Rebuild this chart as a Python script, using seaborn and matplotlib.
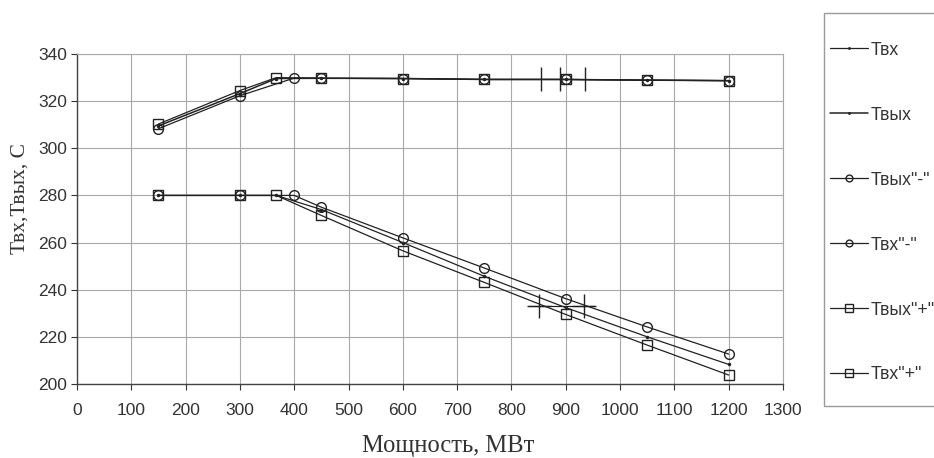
import numpy as np
import pandas as pd
import matplotlib
matplotlib.use("Agg")
import matplotlib.pyplot as plt
import seaborn as sns

# мощность, МВт
x_vyh = [150, 300, 367, 450, 600, 750, 900, 1050, 1200]
x_minus = [150, 300, 400, 450, 600, 750, 900, 1050, 1200]
x_plus = [150, 300, 367, 450, 600, 750, 900, 1050, 1200]

# температуры, С
t_vh = [280, 280, 280, 274, 260, 245.7, 232.4, 220, 208.3]
t_vyh = [309.5, 323.2, 329.6, 329.7, 329.6, 329.2, 329.2, 328.9, 328.7]
t_vyh_minus = [308.3, 322.3, 329.8, 329.7, 329.6, 329.2, 329.2, 328.9, 328.7]
t_vh_minus = [280, 280, 280, 275, 262, 249.2, 236.2, 224.2, 212.7]
t_vyh_plus = [310.3, 324.5, 330, 329.7, 329.6, 329.2, 329.2, 328.9, 328.7]
t_vh_plus = [280, 280, 280, 271.5, 256.5, 243.1, 229.5, 216.5, 203.8]

# пометки на графике
bar_x = [855, 890, 935]
bar_y = [329.2, 329.2, 329.2]
cross_x = [851, 934]
cross_y = [233, 233]
seg_x = [832, 952]
seg_y = [233, 233]

sns.set_style("white")
plt.rcParams['font.family'] = ['Liberation Sans', 'DejaVu Sans']

fig = plt.figure(figsize=(9.34, 4.58), dpi=100)
ax = fig.add_axes([77/934, 1 - 384/458, (783-77)/934, (384-54)/458])

lc = '#222222'
series = [
    ('Твх', x_vyh, t_vh, '.', 3, 0.9),
    ('Твых', x_vyh, t_vyh, '.', 3, 1.1),
    ('Твых"-"', x_minus, t_vyh_minus, 'o', 7, 0.9),
    ('Твх"-"', x_minus, t_vh_minus, 'o', 7, 0.9),
    ('Твых"+"', x_plus, t_vyh_plus, 's', 7.5, 0.9),
    ('Твх"+"', x_plus, t_vh_plus, 's', 7.5, 0.9),
]
draw_order = [2, 3, 4, 5, 0, 1]
for i in draw_order:
    name, xs, ys, mk, ms, lw = series[i]
    df = pd.DataFrame({'x': xs, 'y': ys})
    fc = lc if mk == '.' else 'none'
    sns.lineplot(data=df, x='x', y='y', ax=ax, color=lc, linewidth=lw,
                 marker=mk, markersize=ms, markerfacecolor=fc,
                 markeredgecolor=lc, markeredgewidth=1.0,
                 sort=False, estimator=None, label=name, zorder=3 + i)

sns.scatterplot(x=bar_x, y=bar_y, ax=ax, marker='|', s=300, color=lc,
                linewidth=1.0, zorder=10, legend=False)
sns.lineplot(x=seg_x, y=seg_y, ax=ax, color=lc, linewidth=0.9, zorder=10,
             legend=False)
sns.scatterplot(x=cross_x, y=cross_y, ax=ax, marker='+', s=320, color=lc,
                linewidth=1.0, zorder=10, legend=False)

ax.set_xlim(0, 1300)
ax.set_ylim(200, 340)
ax.set_xticks(np.arange(0, 1301, 100))
ax.set_yticks(np.arange(200, 341, 20))
ax.grid(True, color='#a8a8a8', linewidth=0.8)
ax.set_axisbelow(True)
for s in ['top', 'right']:
    ax.spines[s].set_color('#a8a8a8')
    ax.spines[s].set_linewidth(0.8)
for s in ['left', 'bottom']:
    ax.spines[s].set_color('#444444')
    ax.spines[s].set_linewidth(1.0)
ax.tick_params(axis='both', labelsize=12.5, colors='#333333', length=4,
               width=0.8, direction='out', left=True, bottom=True)
ax.tick_params(axis='x', pad=10)
ax.tick_params(axis='y', pad=3)

ax.set_xlabel('Мощность, МВт', fontsize=17.7, family=['Liberation Serif'],
              color='#333333')
ax.set_ylabel('Твх,Твых, С', fontsize=15.5, family=['Liberation Serif'],
              color='#333333')
ax.xaxis.set_label_coords((448 - 77) / 706, (384 - 446) / 330)
ax.xaxis.label.set_verticalalignment('center')
ax.yaxis.set_label_coords((20 - 77) / 706, (384 - 198) / 330)
ax.yaxis.label.set_verticalalignment('center')

handles, labels = ax.get_legend_handles_labels()
order = ['Твх', 'Твых', 'Твых"-"', 'Твх"-"', 'Твых"+"', 'Твх"+"']
hmap = dict(zip(labels, handles))
if ax.legend_:
    ax.legend_.remove()
leg = fig.legend([hmap[k] for k in order], order, loc='upper left',
                 bbox_to_anchor=(830/934, 1 - 41.6/458), fontsize=12.7,
                 frameon=False, labelspacing=2.72, borderpad=0,
                 handlelength=2.15, handletextpad=0.15, borderaxespad=0,
                 markerscale=0.7)
for t in leg.get_texts():
    t.set_color('#333333')

# рамка легенды уходит за правый край
fig.add_artist(plt.Rectangle((824/934, 1 - 406/458), (960 - 824)/934,
                             (406 - 13)/458, transform=fig.transFigure,
                             fill=False, edgecolor='#9a9a9a', linewidth=1.0))

fig.savefig('out.png', dpi=100)
